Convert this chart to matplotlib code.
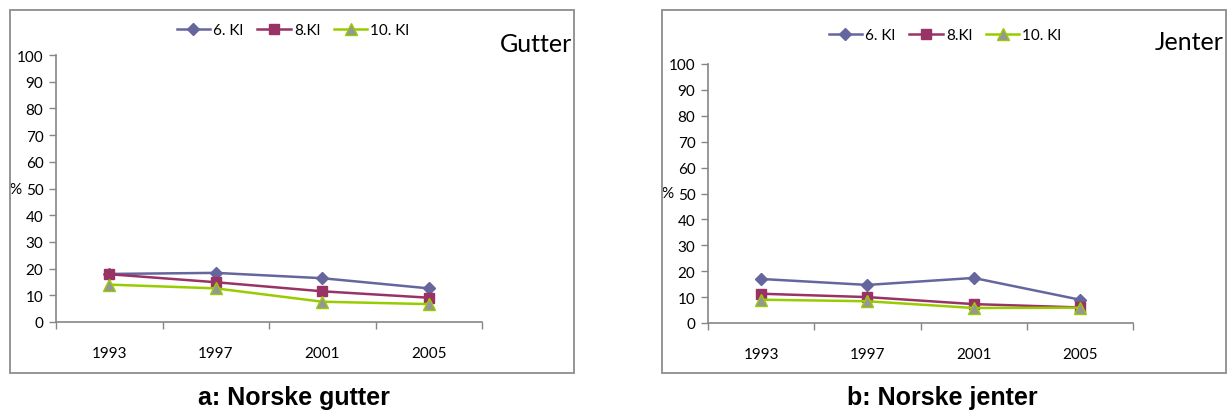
import matplotlib.pyplot as plt
from matplotlib.patches import Rectangle

# Data
years = ["1993", "1997", "2001", "2005"]
series_names = ["6. Kl", "8.Kl", "10. Kl"]

gutter_6 = [18.0, 18.4, 16.4, 12.6]
gutter_8 = [17.9, 14.9, 11.5, 9.1]
gutter_10 = [14.0, 12.6, 7.6, 6.7]

jenter_6 = [17.0, 14.7, 17.4, 9.0]
jenter_8 = [11.3, 10.0, 7.3, 6.0]
jenter_10 = [9.0, 8.4, 5.8, 5.9]

y_ticks = list(range(0, 101, 10))

line_colors = ["#66669e", "#993366", "#99cc00"]
face_colors = ["#66669e", "#993366", "#969696"]
markers = ["D", "s", "^"]
marker_sizes = [6.5, 7, 8]

tick_font = "Lato"
axis_gray = "#868686"

fig = plt.figure(figsize=(12.27, 4.14), dpi=100)

# outer boxes around each chart
for x0 in [10 / 1227, 662 / 1227]:
    fig.patches.append(Rectangle((x0, 40 / 414), 564 / 1227, 363 / 414,
                                 transform=fig.transFigure, fill=False,
                                 edgecolor="#8c8c8c", linewidth=1.3))

panels = [
    {"rect": [56 / 1227, 91 / 414, 426 / 1227, 267 / 414],
     "data": [gutter_6, gutter_8, gutter_10],
     "tag": "Gutter", "tag_xy": (572 / 1227, 369 / 414),
     "legend_xy": (293 / 1227, 383 / 414),
     "title": "a: Norske gutter", "title_x": 294 / 1227},
    {"rect": [708 / 1227, 90 / 414, 425 / 1227, 259 / 414],
     "data": [jenter_6, jenter_8, jenter_10],
     "tag": "Jenter", "tag_xy": (1224 / 1227, 371 / 414),
     "legend_xy": (945 / 1227, 378 / 414),
     "title": "b: Norske jenter", "title_x": 942 / 1227},
]

x = list(range(1, len(years) + 1))

for p in panels:
    ax = fig.add_axes(p["rect"])
    handles = []
    for vals, name, lc, fc, m, ms in zip(p["data"], series_names, line_colors,
                                         face_colors, markers, marker_sizes):
        h, = ax.plot(x, vals, color=lc, linewidth=1.8, marker=m, markersize=ms,
                     markerfacecolor=fc, markeredgecolor=lc, markeredgewidth=1.0,
                     label=name)
        handles.append(h)

    ax.set_xlim(0.5, len(years) + 0.5)
    ax.set_ylim(0, 100)
    ax.set_yticks(y_ticks)
    ax.set_yticklabels([str(v) for v in y_ticks], fontfamily=tick_font, fontsize=11)
    ax.set_xticks(x)
    ax.set_xticklabels(years, fontfamily=tick_font, fontsize=11)
    ax.set_xticks([v + 0.5 for v in range(len(years) + 1)], minor=True)
    ax.tick_params(axis="x", which="major", length=0, pad=17)
    ax.tick_params(axis="x", which="minor", length=5, color=axis_gray, width=1)
    ax.tick_params(axis="y", length=5, color=axis_gray, width=1, pad=4)
    for side in ["top", "right"]:
        ax.spines[side].set_visible(False)
    for side in ["left", "bottom"]:
        ax.spines[side].set_color(axis_gray)
        ax.spines[side].set_linewidth(1.2)

    ax.text(-0.095, 50, "%", transform=ax.get_yaxis_transform(), ha="center",
            va="center", fontfamily=tick_font, fontsize=11)

    fig.legend(handles=handles, loc="center", bbox_to_anchor=p["legend_xy"],
               ncol=3, frameon=False, prop={"family": tick_font, "size": 11},
               handlelength=2.2, handletextpad=0.2, columnspacing=0.9)

    fig.text(p["tag_xy"][0], p["tag_xy"][1], p["tag"], ha="right", va="center",
             fontfamily=tick_font, fontsize=18)

    fig.text(p["title_x"], 16 / 414, p["title"], ha="center", va="center",
             fontfamily="Liberation Sans", fontweight="bold", fontsize=18)

fig.savefig("out.png", dpi=100)
